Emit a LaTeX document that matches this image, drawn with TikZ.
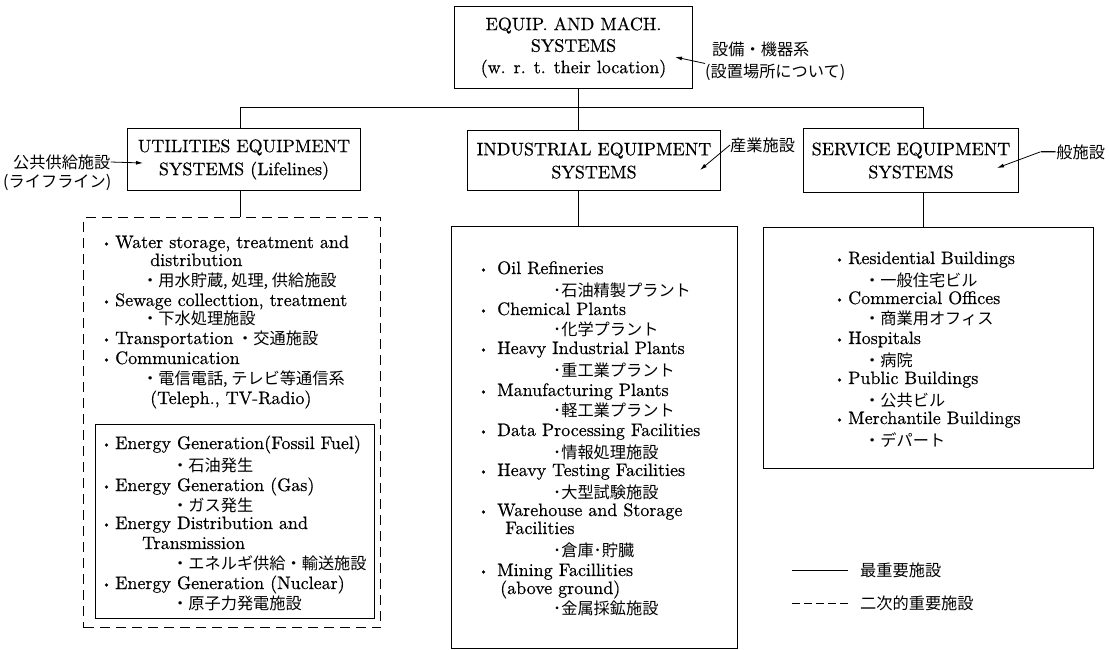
\documentclass[tikz,border=0pt]{standalone}
\usepackage{fontspec}
\setmainfont{lmroman10-regular.otf}[BoldFont=lmroman10-regular.otf, BoldFeatures={FakeBold=0.5}]
\newfontfamily\cjk{Noto Sans CJK JP}[Scale=0.9]
\usetikzlibrary{arrows.meta}
\newcommand\lbul[1][12.5pt]{\makebox[#1][l]{\hspace{-0.5pt}\raisebox{1.5pt}{\fontsize{11}{11}\selectfont •}}}
\newcommand\bfnt{\fontsize{18}{20}\selectfont\bfseries}
\newcommand\hfnt{\fontsize{18}{23}\selectfont\bfseries}
\begin{document}
\begin{tikzpicture}[x=1pt,y=-1pt,
  box/.style={draw, line width=1pt, inner sep=0pt, align=center, font=\hfnt},
  lbox/.style={draw, line width=1pt, inner sep=0pt, anchor=north west},
  txt/.style={inner sep=0pt, anchor=base west, font=\bfnt},
  jtxt/.style={txt, font=\fontsize{18}{20}\selectfont\cjk},
  ann/.style={inner sep=0pt, anchor=west, font=\fontsize{18}{20}\selectfont\cjk},
  arr/.style={-{Latex[length=7pt,width=4pt]}, line width=0.8pt},
  ln/.style={line width=1pt},
  dsh/.style={dash pattern=on 10pt off 6pt}]
\useasboundingbox (0,0) rectangle (1109,650);

% header boxes
\node[box, minimum width=238pt, minimum height=82pt, anchor=north west, font=\fontsize{18}{21.5}\selectfont\bfseries] (top) at (454,6)
  {EQUIP. AND MACH.\\SYSTEMS\\(w. r. t. their location)};
\node[box, minimum width=233pt, minimum height=62pt, anchor=north west] (util) at (127,128)
  {UTILITIES EQUIPMENT\\SYSTEMS (Lifelines)};
\node[box, minimum width=253pt, minimum height=60pt, anchor=north west] (ind) at (467,130)
  {INDUSTRIAL EQUIPMENT\\SYSTEMS};
\node[box, minimum width=215pt, minimum height=64pt, anchor=north west] (serv) at (803,128)
  {SERVICE EQUIPMENT\\SYSTEMS};

% list boxes
\node[lbox, dsh, minimum width=297pt, minimum height=410pt] (ulist) at (83,217) {};
\node[lbox, minimum width=279pt, minimum height=194pt] (uinner) at (95,424) {};
\node[lbox, minimum width=286pt, minimum height=422pt] (ilist) at (451,226) {};
\node[lbox, minimum width=330pt, minimum height=241pt] (slist) at (763,227) {};

% connectors
\coordinate (bus) at (578,108);
\coordinate (cu) at (240,0);
\coordinate (ci) at (578,0);
\coordinate (cs) at (923,0);
\draw[ln] (top.south -| bus) -- (bus);
\draw[ln] (util.north -| cu) -- (cu |- bus) -- (cs |- bus) -- (serv.north -| cs);
\draw[ln] (ind.north -| ci) -- (ci |- bus);
\draw[ln] (util.south -| cu) -- (ulist.north -| cu);
\draw[ln] (ind.south -| ci) -- (ilist.north -| ci);
\draw[ln] (serv.south -| cs) -- (slist.north -| cs);

% annotations
\node[ann] (a1) at (712,49) {設備・機器系};
\node[ann] (a1b) at (705,72) {(設置場所について)};
\coordinate (t1) at (675,57);
\draw[arr] (a1b.north west) -- (t1);
\node[ann] (a2) at (13,162) {公共供給施設};
\node[ann] (a2b) at (3,182) {(ライフライン)};
\coordinate (t2) at (143,163);
\draw[arr] (a2.east) -- (t2);
\node[ann] (a3) at (730,145) {産業施設};
\coordinate (t3) at (700,170);
\draw[arr] (a3.west) -- (t3);
\node[ann] (a4) at (1040,152) {一般施設};
\coordinate (t4) at (997,168);
\draw[arr] (a4.west) -- (t4);

% utilities list
\node[txt] (u1) at (102.5,248) {\lbul Water storage, treatment and};
\node[txt] (u2) at (150,266) {distribution};
\node[jtxt] (u3) at (142,286) {・用水貯蔵, 処理, 供給施設};
\node[txt] (u4) at (102.5,306) {\lbul Sewage collecttion, treatment};
\node[jtxt] (u5) at (142,324) {・下水処理施設};
\node[txt] (u6) at (102.5,344) {\lbul Transportation};
\node[jtxt] (u6b) at (237,344) {・交通施設};
\node[txt] (u7) at (102.5,364) {\lbul Communication};
\node[jtxt] (u8) at (142,384) {・電信電話, テレビ等通信系};
\node[txt] (u9) at (150,404) {(Teleph., TV-Radio)};

% energy list
\node[txt] (e1) at (102.5,449) {\lbul Energy Generation(Fossil Fuel)};
\node[jtxt] (e2) at (172,471) {・石油発生};
\node[txt] (e3) at (102.5,491) {\lbul Energy Generation (Gas)};
\node[jtxt] (e4) at (172,511) {・ガス発生};
\node[txt] (e5) at (102.5,529) {\lbul Energy Distribution and};
\node[txt] (e6) at (142,549) {Transmission};
\node[jtxt] (e7) at (172,569) {・エネルギ供給・輸送施設};
\node[txt] (e8) at (102.5,589) {\lbul Energy Generation (Nuclear)};
\node[jtxt] (e9) at (172,609) {・原子力発電施設};

% industrial list
\node[txt] (i1) at (479.5,274) {\lbul[17.5pt]Oil Refineries};
\node[jtxt] (i2) at (553,296) {･石油精製プラント};
\node[txt] (i3) at (479.5,315) {\lbul[17.5pt]Chemical Plants};
\node[jtxt] (i4) at (553,335) {･化学プラント};
\node[txt] (i5) at (479.5,354) {\lbul[17.5pt]Heavy Industrial Plants};
\node[jtxt] (i6) at (553,376) {･重工業プラント};
\node[txt] (i7) at (479.5,396) {\lbul[17.5pt]Manufacturing Plants};
\node[jtxt] (i8) at (553,416) {･軽工業プラント};
\node[txt] (i9) at (479.5,436) {\lbul[17.5pt]Data Processing Facilities};
\node[jtxt] (i10) at (553,458) {･情報処理施設};
\node[txt] (i11) at (479.5,476) {\lbul[17.5pt]Heavy Testing Facilities};
\node[jtxt] (i12) at (553,498) {･大型試験施設};
\node[txt] (i13) at (479.5,516) {\lbul[17.5pt]Warehouse and Storage};
\node[txt] (i14) at (505,534) {Facilities};
\node[jtxt] (i15) at (553,556) {･倉庫･貯臓};
\node[txt] (i16) at (479.5,576) {\lbul[17.5pt]Mining Facillities};
\node[txt] (i17) at (500,594) {(above ground)};
\node[jtxt] (i18) at (553,614) {･金属採鉱施設};

% service list
\node[txt] (s1) at (835.5,264) {\lbul Residential Buildings};
\node[jtxt] (s2) at (864,286) {・一般住宅ビル};
\node[txt] (s3) at (835.5,304) {\lbul Commercial Offices};
\node[jtxt] (s4) at (864,324) {・商業用オフィス};
\node[txt] (s5) at (835.5,344) {\lbul Hospitals};
\node[jtxt] (s6) at (864,366) {・病院};
\node[txt] (s7) at (835.5,384) {\lbul Public Buildings};
\node[jtxt] (s8) at (864,406) {・公共ビル};
\node[txt] (s9) at (835.5,424) {\lbul Merchantile Buildings};
\node[jtxt] (s10) at (864,446) {・デパート};

% legend
\node[ann] (leg1) at (860,570) {最重要施設};
\node[ann] (leg2) at (860,603) {二次的重要施設};
\coordinate (lg1) at (792,570);
\coordinate (lg2) at (792,603);
\draw[ln] (lg1) -- ([xshift=-12pt]leg1.west);
\draw[ln, dash pattern=on 8pt off 4pt] (lg2) -- ([xshift=-12pt]leg2.west);
\end{tikzpicture}
\end{document}
